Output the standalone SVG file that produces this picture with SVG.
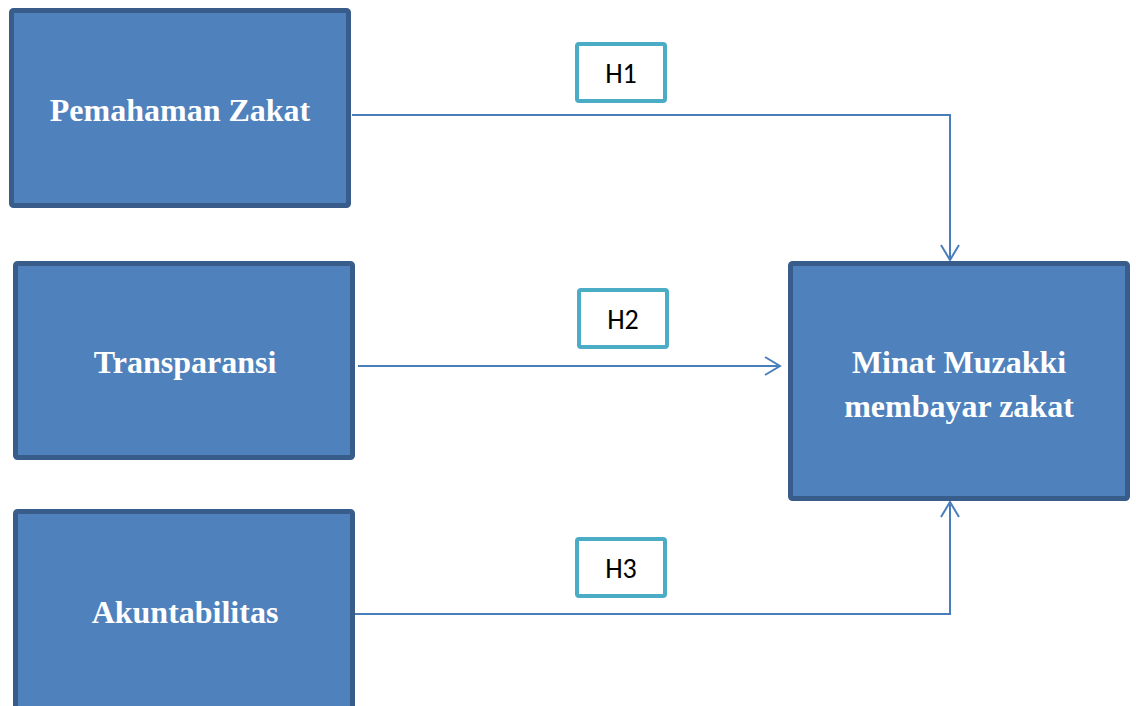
<svg xmlns="http://www.w3.org/2000/svg" width="1136" height="706" viewBox="0 0 1136 706">
<defs>
<style>
.node{fill:#4f81bd;stroke:#385d8a;stroke-width:5}
.lbl{font-family:"Liberation Serif","Times New Roman",serif;font-weight:bold;font-size:32px;fill:#ffffff;text-anchor:middle}
.hbox{fill:#ffffff;stroke:#4bacc6;stroke-width:4}
.htxt{font-family:Carlito,"Liberation Sans",Arial,sans-serif;font-size:28px;fill:#000000;text-anchor:middle}
.conn{fill:none;stroke:#4a7ebb;stroke-width:2}
</style>
<marker id="arr" viewBox="0 0 20 20" refX="16" refY="10" markerWidth="20" markerHeight="20" markerUnits="userSpaceOnUse" orient="auto">
<path d="M1,1 L16,10 L1,19" fill="none" stroke="#4a7ebb" stroke-width="2"/>
</marker>
</defs>
<rect width="1136" height="706" fill="#ffffff"/>
<g id="connectors">
<polyline class="conn" points="352,115 950,115 950,260" marker-end="url(#arr)"/>
<line class="conn" x1="358" y1="366" x2="780" y2="366" marker-end="url(#arr)"/>
<polyline class="conn" points="355,614 950,614 950,502" marker-end="url(#arr)"/>
</g>
<g id="node-pemahaman">
<rect class="node" x="11.5" y="10.5" width="337" height="195" rx="2"/>
<text class="lbl" x="180" y="121">Pemahaman Zakat</text>
</g>
<g id="node-transparansi">
<rect class="node" x="15.5" y="263.5" width="337" height="194" rx="2"/>
<text class="lbl" x="185" y="373">Transparansi</text>
</g>
<g id="node-akuntabilitas">
<rect class="node" x="15.5" y="511.5" width="337" height="210" rx="2"/>
<text class="lbl" x="185" y="623">Akuntabilitas</text>
</g>
<g id="node-minat">
<rect class="node" x="790.5" y="263.5" width="337" height="235" rx="2"/>
<text class="lbl" x="959" y="373">Minat Muzakki</text>
<text class="lbl" x="959" y="417">membayar zakat</text>
</g>
<g id="h1">
<rect class="hbox" x="577" y="44" width="88" height="57" rx="2"/>
<text class="htxt" x="621" y="83">H1</text>
</g>
<g id="h2">
<rect class="hbox" x="579" y="290" width="88" height="57" rx="2"/>
<text class="htxt" x="623" y="329">H2</text>
</g>
<g id="h3">
<rect class="hbox" x="577" y="539" width="88" height="57" rx="2"/>
<text class="htxt" x="621" y="578">H3</text>
</g>
</svg>
